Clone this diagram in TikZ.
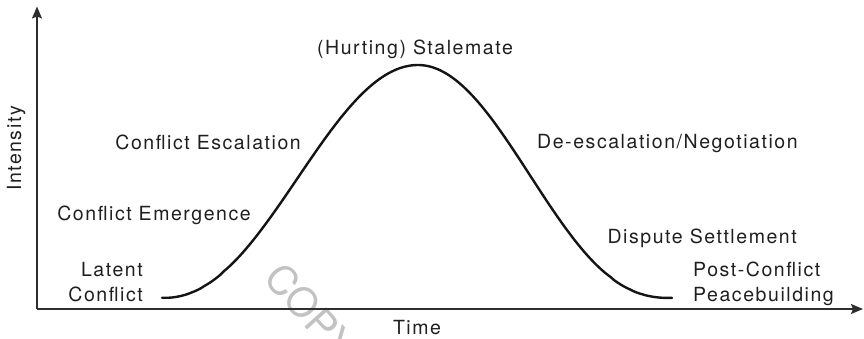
\documentclass[tikz,border=0pt]{standalone}
\usepackage{fontspec}
\setmainfont{TeX Gyre Heros}[LetterSpace=8]
\newfontfamily\wmfont{TeX Gyre Heros}
\usetikzlibrary{arrows.meta}
\tikzset{
  lbl/.style={inner sep=0pt, text=black!88, font=\fontsize{19.5}{24.5}\selectfont},
  axisline/.style={line width=1.4pt, draw=black!82, -{Stealth[length=12pt,width=10pt,inset=2pt]}},
  curveline/.style={line width=2.4pt, draw=black!92, line cap=round},
  wmark/.style={inner sep=0pt, text=black!24, font=\wmfont\fontsize{40}{40}\selectfont},
  declare function={bellL(\t)=exp(1.1*ln(max((1+cos((\t-418)/256*180))/2,0.002)));
                    bellR(\t)=exp(1.225*ln(max((1+cos((\t-418)/254*180))/2,0.002)));}
}
\begin{document}
\begin{tikzpicture}[x=1pt,y=-1pt]
\useasboundingbox (0,0) rectangle (864,339);
\clip (0,0) rectangle (864,339);
% watermark
\node[wmark, rotate=-48] (wm) at (311,312) {COPY};
% axes
\coordinate (orig) at (37,309);
\coordinate (ytip) at (37,6.5);
\coordinate (xtip) at (863,309);
\draw[axisline] (orig) -- (ytip);
\draw[axisline] (orig) -- (xtip);
% curve
\draw[curveline]
  plot[domain=162:418, samples=80] (\x, {298-233*bellL(\x)})
  -- plot[domain=418:672, samples=80] (\x, {298-233*bellR(\x)});
% labels
\node[lbl, anchor=base] (stale) at (415,55) {(Hurting) Stalemate};
\node[lbl, anchor=base east] (escal) at (301,150) {Conflict Escalation};
\node[lbl, anchor=base east] (emerg) at (251,220) {Conflict Emergence};
\node[lbl, anchor=base west] (deesc) at (537,149) {De-escalation/Negotiation};
\node[lbl, anchor=base east] (disp) at (797,243) {Dispute Settlement};
\node[lbl, anchor=base east, align=right] (latent) at (143,301) {Latent\\Conflict};
\node[lbl, anchor=base west, align=left] (post) at (693,301) {Post-Conflict\\Peacebuilding};
\node[lbl, anchor=base] (time) at (417,334) {Time};
\node[lbl, anchor=base, rotate=90] (inten) at (21,148.5) {Intensity};
\end{tikzpicture}
\end{document}
